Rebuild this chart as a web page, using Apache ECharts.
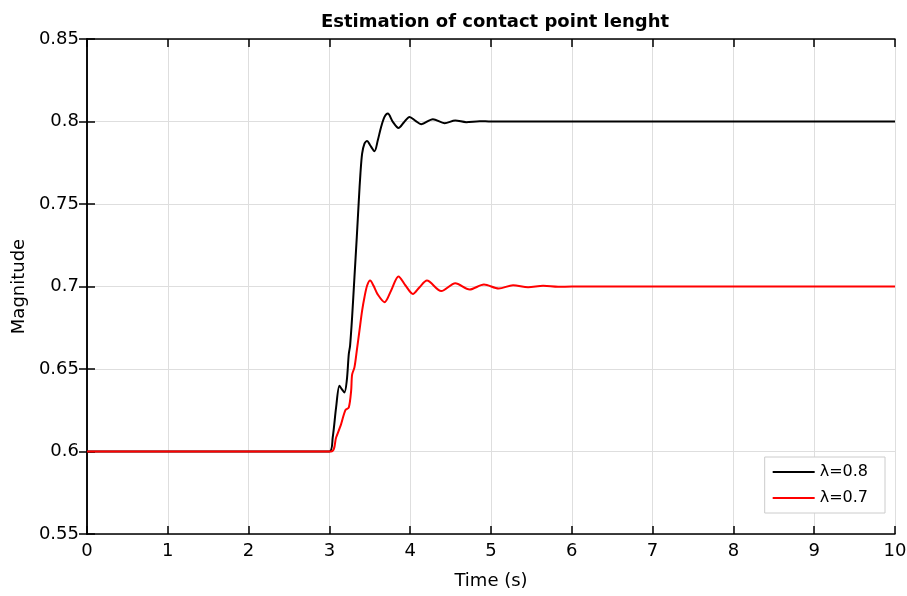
<!DOCTYPE html>
<html>
<head>
<meta charset="utf-8">
<script src="https://cdn.jsdelivr.net/npm/echarts@6/dist/echarts.min.js"></script>
<style>
  html, body { margin: 0; padding: 0; background: #fff; }
  #main { width: 907px; height: 596px; }
</style>
</head>
<body>
<div id="main"></div>
<script>
// values
const tBlack = [0, 3.0, 3.041, 3.083, 3.124, 3.153, 3.186, 3.215, 3.24, 3.256, 3.281, 3.31, 3.339, 3.364, 3.384, 3.405, 3.434, 3.467, 3.504, 3.558, 3.599, 3.64, 3.682, 3.723, 3.785, 3.855, 3.921, 3.992, 4.066, 4.136, 4.281, 4.426, 4.558, 4.694, 4.86, 5.0, 10]
const vBlack = [0.6, 0.6, 0.6085, 0.6267, 0.6399, 0.6378, 0.6358, 0.6429, 0.6591, 0.6642, 0.6814, 0.7057, 0.7299, 0.7522, 0.7684, 0.7805, 0.7866, 0.7882, 0.7856, 0.782, 0.7886, 0.7967, 0.8028, 0.8048, 0.7998, 0.7961, 0.7994, 0.8028, 0.8004, 0.7984, 0.8014, 0.799, 0.8006, 0.7996, 0.8002, 0.8, 0.8]

const tRed = [0, 3.021, 3.083, 3.145, 3.198, 3.24, 3.269, 3.281, 3.31, 3.339, 3.372, 3.405, 3.434, 3.467, 3.504, 3.545, 3.599, 3.682, 3.764, 3.855, 3.942, 4.033, 4.116, 4.207, 4.384, 4.558, 4.736, 4.913, 5.095, 5.273, 5.459, 5.645, 5.831, 6.0, 10]
const vRed = [0.6, 0.6, 0.6085, 0.6166, 0.6251, 0.6267, 0.6368, 0.6466, 0.651, 0.6611, 0.6733, 0.6854, 0.6935, 0.7006, 0.7036, 0.7006, 0.6951, 0.6905, 0.6976, 0.7061, 0.7006, 0.6955, 0.6996, 0.7036, 0.6972, 0.702, 0.6982, 0.7012, 0.6988, 0.7008, 0.6996, 0.7004, 0.6998, 0.7, 0.7]

const seriesNames = ['λ=0.8', 'λ=0.7']
const seriesColors = ['#000000', '#ff0000']

const font = 'DejaVu Sans, sans-serif'
const myChart = echarts.init(document.getElementById('main'))

function pairs(ts, vs) {
    return ts.map((t, i) => [t, vs[i]])
}

// top / right axes only close the box with ticks
const frameAxis = {
    type: 'value',
    axisLine: { show: true, lineStyle: { color: '#000', width: 1.5 } },
    axisTick: { show: true, inside: true, length: 8, lineStyle: { color: '#000', width: 1.5 } },
    axisLabel: { show: false },
    splitLine: { show: false }
}

myChart.setOption({
    animation: false,
    backgroundColor: '#fff',
    title: {
        text: 'Estimation of contact point lenght',
        left: 490,
        textAlign: 'center',
        top: 8,
        textStyle: { fontFamily: font, fontSize: 18, fontWeight: 'bold', color: '#000' }
    },
    grid: { left: 87, right: 12, top: 39, bottom: 62, outerBoundsMode: 'none' },
    legend: {
        orient: 'vertical',
        right: 22,
        bottom: 83,
        padding: [7, 17, 7, 8],
        itemGap: 10,
        itemWidth: 42,
        itemHeight: 2,
        icon: 'rect',
        borderColor: '#cccccc',
        borderWidth: 1,
        borderRadius: 0,
        backgroundColor: '#fff',
        textStyle: { fontFamily: font, fontSize: 16, color: '#000' },
        data: seriesNames
    },
    xAxis: [
        {
            type: 'value',
            min: 0,
            max: 10,
            interval: 1,
            name: 'Time (s)',
            nameLocation: 'middle',
            nameGap: 38,
            nameTextStyle: { fontFamily: font, fontSize: 18, color: '#000' },
            axisLine: { show: true, onZero: false, lineStyle: { color: '#000', width: 1.5 } },
            axisTick: { show: true, inside: true, length: 8, lineStyle: { color: '#000', width: 1.5 } },
            axisLabel: { fontFamily: font, fontSize: 18, color: '#000', margin: 8 },
            splitLine: { show: true, lineStyle: { color: '#dedede', width: 1 } }
        },
        Object.assign({}, frameAxis, { position: 'top', min: 0, max: 10, interval: 1 })
    ],
    yAxis: [
        {
            type: 'value',
            min: 0.55,
            max: 0.85,
            interval: 0.05,
            name: 'Magnitude',
            nameLocation: 'middle',
            nameGap: 56,
            nameTextStyle: { fontFamily: font, fontSize: 18, color: '#000' },
            axisLine: { show: true, onZero: false, lineStyle: { color: '#000', width: 1.5 } },
            axisTick: { show: true, inside: true, length: 8, lineStyle: { color: '#000', width: 1.5 } },
            axisLabel: {
                fontFamily: font, fontSize: 18, color: '#000', margin: 8,
                formatter: (v) => String(+v.toFixed(2))
            },
            splitLine: { show: true, lineStyle: { color: '#dedede', width: 1 } }
        },
        Object.assign({}, frameAxis, { position: 'right', min: 0.55, max: 0.85, interval: 0.05 })
    ],
    series: [
        {
            name: seriesNames[0],
            type: 'line',
            symbol: 'none',
            smooth: 0.3,
            color: seriesColors[0],
            lineStyle: { width: 2, color: seriesColors[0] },
            data: pairs(tBlack, vBlack),
            z: 3
        },
        {
            name: seriesNames[1],
            type: 'line',
            symbol: 'none',
            smooth: 0.3,
            color: seriesColors[1],
            lineStyle: { width: 2, color: seriesColors[1] },
            data: pairs(tRed, vRed),
            z: 4
        }
    ]
})
</script>
</body>
</html>
